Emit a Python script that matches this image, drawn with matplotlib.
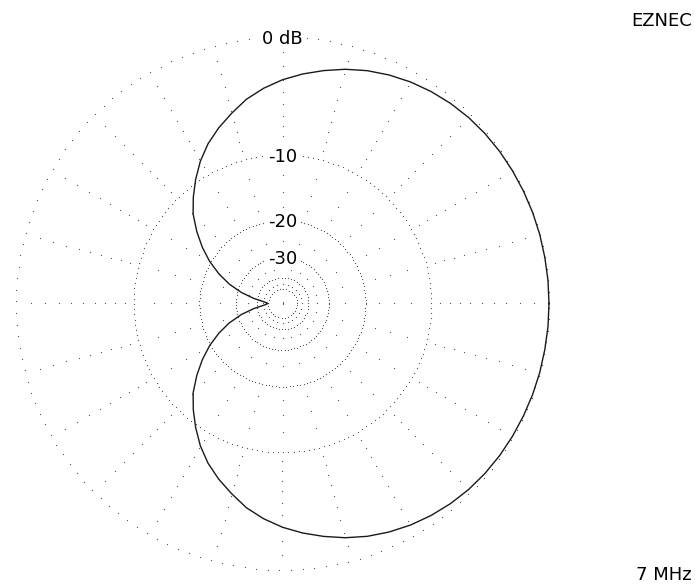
import numpy as np
import matplotlib
matplotlib.use("Agg")
import matplotlib.pyplot as plt

# Azimuth pattern (upper half, degrees CCW from east); the pattern is symmetric
azimuth_deg = [0, 5, 10, 15, 20, 25, 30, 35, 40, 45, 50, 55, 60, 65, 70, 75, 80, 85,
               90, 95, 100, 105, 110, 115, 120, 125, 130, 135, 140, 145, 150, 155,
               160, 165, 170, 175, 180]
gain_db = [0.0, 0.0, -0.01, -0.01, -0.02, -0.04, -0.06, -0.09, -0.14, -0.22, -0.34,
           -0.50, -0.70, -0.95, -1.25, -1.62, -2.05, -2.5, -3.0, -3.6, -4.3, -5.2,
           -6.1, -7.1, -8.3, -9.7, -11.2, -12.8, -14.9, -17.2, -19.8, -22.9, -26.6,
           -31.5, -38.0, -46.0, -50.0]

ring_db = [0, -10, -20, -30, -40, -50]
ring_labels = ["0 dB", "-10", "-20", "-30"]
spoke_step_deg = 15
spoke_marks_db = [-1, -2, -3, -4, -5, -6, -7, -8, -9, -12.5, -15, -17.5, -25, -35, -45]
freq_label = "7 MHz"
program_label = "EZNEC"

FLOOR_DB = -50.0


def arrl_radius(db):
    """ARRL log scale: radius shrinks by 0.89 for every 2 dB."""
    db = np.maximum(np.asarray(db, dtype=float), FLOOR_DB)
    return 0.89 ** (-db / 2.0)


W, H, DPI = 695, 587, 100
fig = plt.figure(figsize=(W / DPI, H / DPI), dpi=DPI)
cx, cy, R = 282.5, 303.5, 266.5
ax = fig.add_axes([(cx - R) / W, (H - cy - R) / H, 2 * R / W, 2 * R / H],
                  projection="polar")
ax.set_ylim(0, 1)
ax.axis("off")

dot_color = "#5a5a5a"
# dot spacing (pixels) along each ring
ring_spacing_px = {0: 11.6, -10: 5.2, -20: 3.5, -30: 3.2, -40: 3.2, -50: 3.2}
for db in ring_db:
    r = float(arrl_radius(db))
    step = ring_spacing_px[db] / (r * R)
    th = np.arange(0, 2 * np.pi, step)
    ax.plot(th, np.full_like(th, r), linestyle="none", marker="s",
            markersize=0.8, color=dot_color, markeredgewidth=0, clip_on=False)

# dotted spokes
spoke_th = np.deg2rad(np.arange(0, 360, spoke_step_deg))
for m in spoke_marks_db:
    r = float(arrl_radius(m))
    ax.plot(spoke_th, np.full_like(spoke_th, r), linestyle="none", marker="s",
            markersize=0.8, color=dot_color, markeredgewidth=0, clip_on=False)
ax.plot([0], [0], linestyle="none", marker="s", markersize=0.8,
        color=dot_color, markeredgewidth=0)

# pattern trace, mirrored to the lower half
az = np.array(azimuth_deg, dtype=float)
g = np.array(gain_db, dtype=float)
theta = np.deg2rad(np.concatenate([az, 360 - az[::-1][1:]]))
gain = np.concatenate([g, g[::-1][1:]])
ax.plot(theta, arrl_radius(gain), color="#1a1a1a", linewidth=1.0,
        clip_on=False, zorder=5)

font = dict(family="DejaVu Sans", fontsize=13, color="black")
for db, lab in zip(ring_db, ring_labels):
    ax.text(np.pi / 2, float(arrl_radius(db)), lab, ha="center",
            va="center_baseline", zorder=6,
            bbox=dict(facecolor="white", edgecolor="none", pad=1.5), **font)

fig.text(691.7 / W, 1 - 20.5 / H, program_label, ha="right", va="center", **font)
fig.text(691.7 / W, 1 - 574.5 / H, freq_label, ha="right", va="center", **font)

fig.savefig("out.png", dpi=DPI, facecolor="white")
